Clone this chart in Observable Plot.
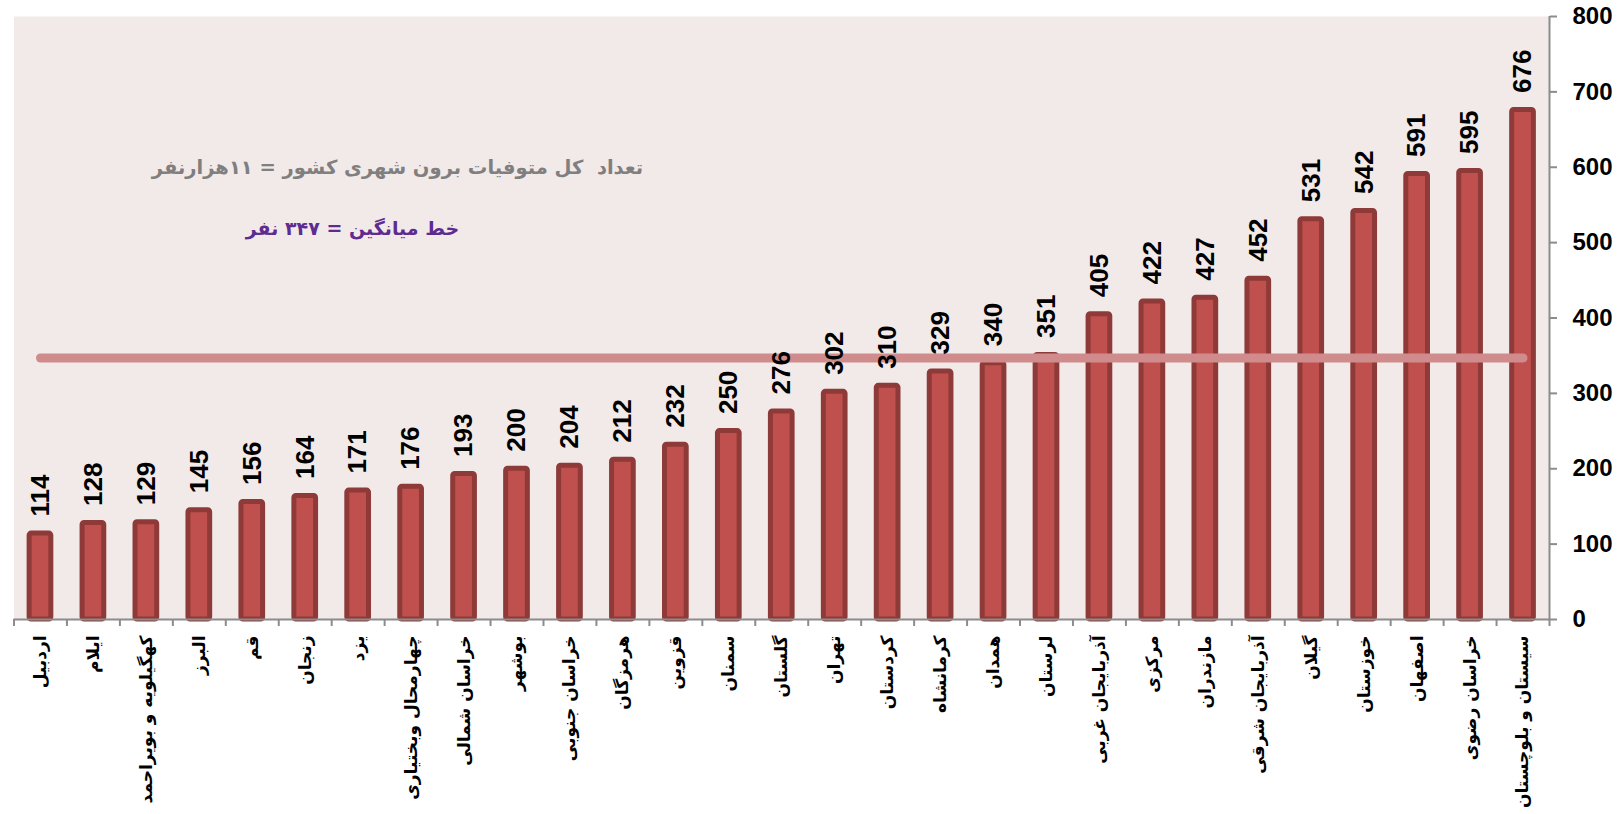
<!DOCTYPE html>
<html>
<head>
<meta charset="utf-8">
<script src="https://cdn.jsdelivr.net/npm/d3@7"></script>
<script src="https://cdn.jsdelivr.net/npm/@observablehq/plot@0.6"></script>
<style>
  html, body { margin: 0; padding: 0; background: #ffffff; }
  #chart svg { display: block; }
</style>
</head>
<body>
<div id="chart"></div>
<script>
const categories = [
  "اردبیل", "ایلام", "کهگیلویه و بویراحمد", "البرز", "قم", "زنجان", "یزد",
  "چهارمحال وبختیاری", "خراسان شمالی", "بوشهر", "خراسان جنوبی", "هرمزگان",
  "قزوین", "سمنان", "گلستان", "تهران", "کردستان", "کرمانشاه", "همدان",
  "لرستان", "آذربایجان غربی", "مرکزی", "مازندران", "آذربایجان شرقی",
  "گیلان", "خوزستان", "اصفهان", "خراسان رضوی", "سیستان و بلوچستان"
];
const values = [
  114, 128, 129, 145, 156, 164, 171, 176, 193, 200, 204, 212, 232, 250, 276,
  302, 310, 329, 340, 351, 405, 422, 427, 452, 531, 542, 591, 595, 676
];
const meanValue = 347;
const yTicks = [0, 100, 200, 300, 400, 500, 600, 700, 800];
const titleText = "تعداد  کل متوفیات برون شهری کشور = ۱۱هزارنفر";
const meanText = "خط میانگین = ۳۴۷ نفر";

const data = categories.map((c, i) => ({province: c, value: values[i]}));
const meanLine = [
  {province: categories[0], value: meanValue},
  {province: categories[categories.length - 1], value: meanValue}
];

const W = 1618, H = 814;
const mL = 13.5, mR = 69, mT = 16, mB = 195;
const bw = (W - mL - mR) / categories.length;
const pxPerUnit = (H - mT - mB) / 800;
const tickUnits = 7 / pxPerUnit;
const axisGray = "#8c8c8c";
const latin = "'Liberation Sans', Arial, sans-serif";
const persian = "'DejaVu Sans', sans-serif";

const chart = Plot.plot({
  width: W, height: H,
  marginLeft: mL, marginRight: mR, marginTop: mT, marginBottom: mB,
  style: {background: "#ffffff", overflow: "visible"},
  x: {domain: categories, padding: 0, round: false, axis: null},
  y: {domain: [0, 800], axis: null},
  marks: [
    Plot.frame({fill: "#F2E9E9", stroke: null}),
    Plot.barY(data, {
      x: "province", y: "value",
      fill: "#C0504D", stroke: "#8E3A38", strokeWidth: 5,
      insetLeft: (bw - 21.7) / 2, insetRight: (bw - 21.7) / 2, rx: 2
    }),
    Plot.line(meanLine, {
      x: "province", y: "value",
      stroke: "#D08C8C", strokeWidth: 9, strokeLinecap: "round"
    }),
    Plot.text(data, {
      x: "province", y: "value", text: d => String(d.value),
      rotate: -90, textAnchor: "start", lineAnchor: "middle", dy: -17,
      fontSize: 26, fontWeight: "bold", fontFamily: latin, fill: "#000"
    }),
    Plot.ruleY([0], {stroke: axisGray, strokeWidth: 2}),
    Plot.ruleX(categories, {
      x: d => d, dx: -bw / 2, y1: 0, y2: -tickUnits,
      stroke: axisGray, strokeWidth: 2
    }),
    Plot.ruleX([categories[categories.length - 1]], {
      x: d => d, dx: bw / 2, y1: 800, y2: -tickUnits,
      stroke: axisGray, strokeWidth: 2
    }),
    Plot.axisY(yTicks, {
      anchor: "right", tickSize: 7, tickPadding: 16, label: null,
      stroke: axisGray, strokeWidth: 2, fill: "#000",
      fontSize: 24, fontWeight: "bold", fontFamily: latin
    }),
    Plot.text(categories, {
      x: d => d, text: d => d, frameAnchor: "bottom",
      rotate: -90, textAnchor: "end", lineAnchor: "middle", dy: 16,
      fontSize: 17, fontWeight: "bold", fontFamily: persian, fill: "#000"
    }),
    Plot.text([titleText], {
      text: d => d, frameAnchor: "top-left", dx: 397 - mL, dy: 167 - mT,
      textAnchor: "middle", lineAnchor: "middle",
      fontSize: 19.5, fontWeight: "bold", fontFamily: persian, fill: "#7F7F7F",
      style: "text-shadow: 1px 1px 1px rgba(0,0,0,0.25)"
    }),
    Plot.text([meanText], {
      text: d => d, frameAnchor: "top-left", dx: 352 - mL, dy: 228 - mT,
      textAnchor: "middle", lineAnchor: "middle",
      fontSize: 19, fontWeight: "bold", fontFamily: persian, fill: "#5E2C91"
    })
  ]
});
document.getElementById("chart").appendChild(chart);
</script>
</body>
</html>
